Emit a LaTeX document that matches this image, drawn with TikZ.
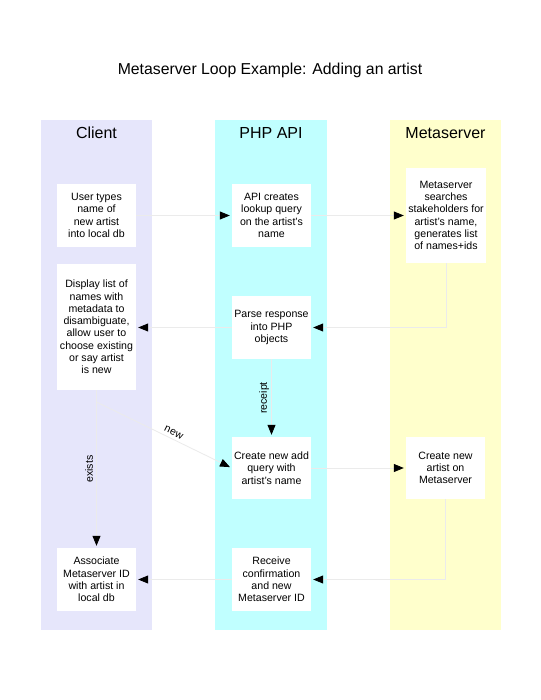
\documentclass[tikz,border=0pt]{standalone}
\usepackage{fontspec}
\setmainfont{Liberation Sans}
\usetikzlibrary{arrows.meta}
\definecolor{clientbg}{HTML}{E6E6FB}
\definecolor{apibg}{HTML}{C0FFFF}
\definecolor{msbg}{HTML}{FFFFCC}
\definecolor{connline}{HTML}{EBEBEB}
\tikzset{
  lanetitle/.style={font=\fontsize{16}{19}\selectfont, inner sep=0pt},
  box/.style={fill=white, draw=none, align=center, inner sep=1pt,
    font=\fontsize{10.6}{12.3}\selectfont, minimum width=79pt, minimum height=63pt},
  conn/.style={draw=connline, line width=0.8pt, shorten >=2pt,
    -{Triangle[length=10pt,width=8pt,color=black]}},
  lbl/.style={font=\fontsize{10.6}{12}\selectfont, inner sep=2pt}
}
\begin{document}
\begin{tikzpicture}[x=1pt,y=-1pt]
\useasboundingbox[fill=white] (0,0) rectangle (540,700);
\fill[clientbg] (41,120) rectangle (152,630);
\fill[apibg] (215,120) rectangle (327,630);
\fill[msbg] (390,120) rectangle (501,630);
\node[font=\fontsize{15.8}{19}\selectfont] (title) at (270,70) {Metaserver Loop Example: Adding an artist};
\node[lanetitle] (tclient) at (96.5,133) {Client};
\node[lanetitle] (tapi) at (271,133) {PHP API};
\node[lanetitle] (tms) at (445.5,133) {Metaserver};

\node[box] (user) at (96.5,215.5) {User types\\name of\\new artist\\into local db};
\node[box] (api) at (271.5,215.5) {API creates\\lookup query\\on the artist's\\name};
\node[box, minimum width=80pt, minimum height=95pt] (ms) at (446,215.5) {Metaserver\\searches\\stakeholders for\\artist's name,\\generates list\\of names+ids};
\node[box, minimum height=126pt] (disp) at (96.5,327) {Display list of\\names with\\metadata to\\disambiguate,\\allow user to\\choose existing\\or say artist\\is new};
\node[box] (parse) at (271.5,327.5) {Parse response\\into PHP\\objects};
\node[box, minimum height=62pt] (addq) at (271.5,468) {Create new add\\query with\\artist's name};
\node[box, minimum height=62pt] (newart) at (445.5,468) {Create new\\artist on\\Metaserver};
\node[box] (assoc) at (96.5,579.5) {Associate\\Metaserver ID\\with artist in\\local db};
\node[box] (recv) at (271.5,579.5) {Receive\\confirmation\\and new\\Metaserver ID};

\coordinate (split) at (96.5,402);

\draw[conn] (user.east) -- (api.west);
\draw[conn] (api.east) -- (ms.west |- api.east);
\draw[conn] (ms.south) |- (parse.east);
\draw[conn] (parse.west) -- (parse.west -| disp.east);
\draw[conn] (parse.south) -- node[lbl, midway, rotate=90, anchor=south] {receipt} (addq.north);
\draw[conn] (disp.south) -- node[lbl, midway, rotate=90, anchor=south, yshift=1pt] {exists} (assoc.north);
\draw[conn] (split) -- node[lbl, pos=0.55, sloped, above, inner sep=3pt] {new} (addq.west);
\draw[conn] (addq.east) -- (newart.west);
\draw[conn] (newart.south) |- (recv.east);
\draw[conn] (recv.west) -- (assoc.east);
\end{tikzpicture}
\end{document}
